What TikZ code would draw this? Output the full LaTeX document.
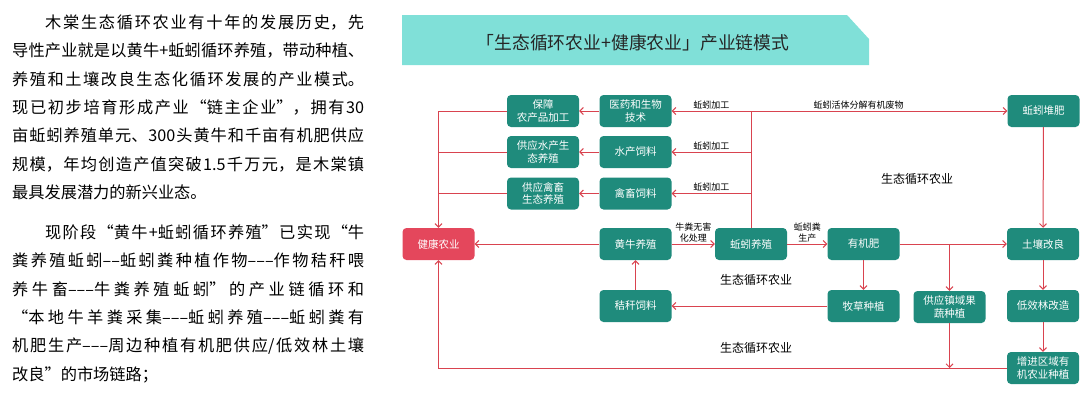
\documentclass[tikz,border=0pt]{standalone}
\usepackage{fontspec}
\newfontfamily\cjk{Noto Sans CJK SC}
\usetikzlibrary{arrows.meta}
\XeTeXlinebreaklocale "zh"
\XeTeXlinebreakskip=0pt plus 3pt minus 0.3pt
\newcommand\dd{–}
\definecolor{boxteal}{HTML}{1F8B7C}
\definecolor{banner}{HTML}{80E0D8}
\definecolor{health}{HTML}{E4475C}
\definecolor{flow}{HTML}{D9434F}
\begin{document}
\begin{tikzpicture}[x=1pt,y=-1pt,
    box/.style={rectangle,rounded corners=4pt,fill=boxteal,text=white,
        minimum width=72pt,minimum height=32pt,inner sep=1pt,align=center,
        font=\cjk\fontsize{10.5}{12.7}\selectfont},
    lbl/.style={inner sep=1.5pt,align=center,font=\cjk\fontsize{9}{11}\selectfont},
    cyc/.style={inner sep=0pt,font=\cjk\fontsize{12}{14}\selectfont},
    para/.style={anchor=base west,inner sep=0pt,text width=352pt,align=justify,
        font=\cjk\fontsize{16.2}{28.3}\selectfont},
    arr/.style={draw=flow,line width=1pt,-{Straight Barb[length=3.5pt,width=7pt]}},
    ln/.style={draw=flow,line width=1pt}]
\useasboundingbox (0,0) rectangle (1080,400);

% left text
\node[para] (p1) at (12,28.5) {\hspace*{33pt}木棠生态循环农业有十年的发展历史，先\linebreak
导性产业就是以黄牛+蚯蚓循环养殖，带动种植、\linebreak
养殖和土壤改良生态化循环发展的产业模式。\linebreak
现已初步培育形成产业“链主企业”，拥有30\linebreak
亩蚯蚓养殖单元、300头黄牛和千亩有机肥供应\linebreak
规模，年均创造产值突破1.5千万元，是木棠镇\linebreak
最具发展潜力的新兴业态。};
\node[para] (p2) at (12,238.5) {\hspace*{33pt}现阶段“黄牛+蚯蚓循环养殖”已实现“牛\linebreak
粪养殖蚯蚓\dd\dd 蚯蚓粪种植作物\dd\dd\dd 作物秸秆喂\linebreak
养牛畜\dd\dd\dd 牛粪养殖蚯蚓”的产业链循环和\linebreak
“本地牛羊粪采集\dd\dd\dd 蚯蚓养殖\dd\dd\dd 蚯蚓粪有\linebreak
机肥生产\dd\dd\dd 周边种植有机肥供应/低效林土壤\linebreak
改良”的市场链路；};

% title banner
\fill[banner] (402,15) -- (847,15) -- (869,39) -- (869,65) -- (402,65) -- cycle;
\node[font=\cjk\fontsize{17.8}{20}\selectfont,text=black!85] (title) at (633,43)
    {「生态循环农业+健康农业」产业链模式};

% boxes
\node[box,fill=health] (jk) at (438.5,244) {健康农业};
\node[box] (bz) at (543,111) {保障\\农产品加工};
\node[box] (yy) at (635.5,111) {医药和生物\\技术};
\node[box] (gs) at (543,152) {供应水产生\\态养殖};
\node[box] (sc) at (635.5,152) {水产饲料};
\node[box] (gq) at (543,193.5) {供应禽畜\\生态养殖};
\node[box] (qc) at (635.5,193.5) {禽畜饲料};
\node[box] (hn) at (635.5,244) {黄牛养殖};
\node[box] (qy) at (751,244) {蚯蚓养殖};
\node[box] (yj) at (863.5,244) {有机肥};
\node[box] (tr) at (1043,244) {土壤改良};
\node[box] (dp) at (1043.5,111) {蚯蚓堆肥};
\node[box] (jg) at (635.5,306) {秸秆饲料};
\node[box] (mc) at (863.5,306) {牧草种植};
\node[box] (gg) at (949.5,307) {供应镇域果\\蔬种植};
\node[box] (dx) at (1043,306) {低效林改造};
\node[box] (zj) at (1043,368) {增进区域有\\机农业种植};

% cycle labels
\node[cyc] (c1) at (917,179) {生态循环农业};
\node[cyc] (c2) at (756,280) {生态循环农业};
\node[cyc] (c3) at (756,348) {生态循环农业};

% upper branch
\coordinate (top) at (qy.north |- yy.east);
\draw[ln] (qy.north) -- (top);
\draw[arr] (top) -- node[lbl,above] {蚯蚓加工} (yy.east);
\draw[arr] (qy.north |- sc.east) -- node[lbl,above] {蚯蚓加工} (sc.east);
\draw[arr] (qy.north |- qc.east) -- node[lbl,above] {蚯蚓加工} (qc.east);
\draw[arr] (top) -- node[lbl,above,pos=0.42] {蚯蚓活体分解有机废物} (dp.west);
\draw[arr] (yy) -- (bz);
\draw[arr] (sc) -- (gs);
\draw[arr] (qc) -- (gq);
\draw[arr] (bz.west) -| (jk.north);
\draw[ln] (gs.west) -- (gs.west -| jk.north);
\draw[ln] (gq.west) -- (gq.west -| jk.north);
\draw[arr] (dp) -- (tr);

% main row
\draw[arr] (hn) -- (jk);
\draw[arr] (hn) -- node[lbl,above] {牛粪无害\\化处理} (qy);
\draw[arr] (qy) -- node[lbl,above] {蚯蚓粪\\生产} (yj);
\draw[arr] (yj) -- (tr);
\draw[arr] (gg.north |- yj.east) -- (gg.north);
\draw[arr] (yj) -- (mc);
\draw[arr] (mc) -- (jg);
\draw[arr] (jg) -- (hn);
\draw[arr] (tr) -- (dx);
\draw[arr] (dx) -- (zj);

% bottom return
\draw[arr] (zj.west) -| (jk.south);
\draw[arr] (gg.south) -- (gg.south |- zj.west);
\end{tikzpicture}
\end{document}
